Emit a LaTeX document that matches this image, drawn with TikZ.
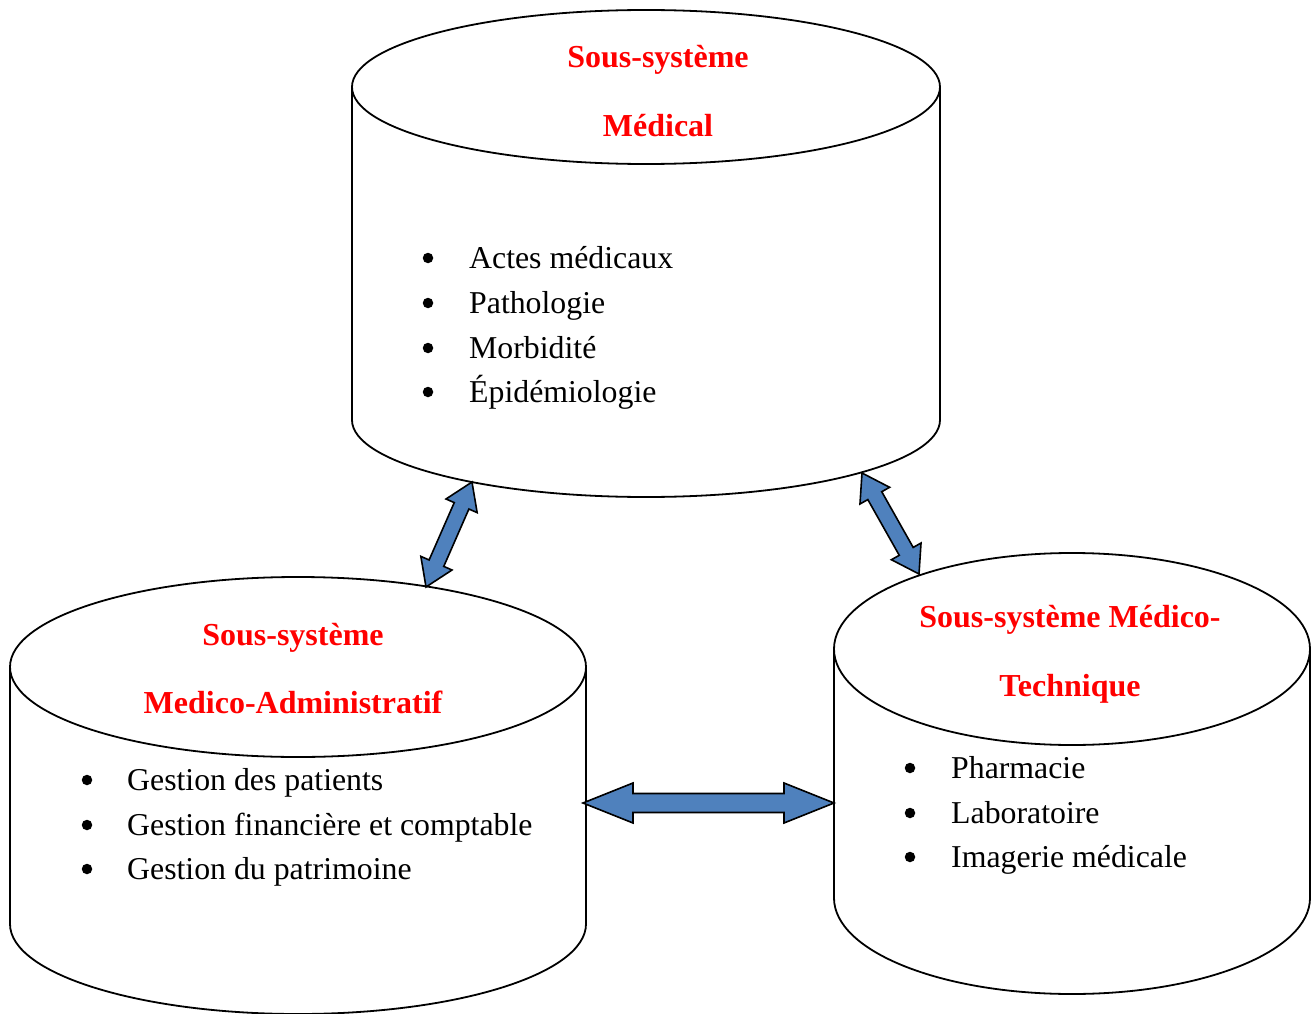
\documentclass[tikz,border=0pt]{standalone}
\usepackage{fontspec}
\setmainfont{Liberation Serif}
\usetikzlibrary{calc}
\definecolor{arrowblue}{HTML}{4F81BD}
\tikzset{
  cyl/.style={draw=black, line width=1.8pt},
  title/.style={text=red, font=\fontsize{32}{38}\selectfont\bfseries, anchor=base, inner sep=0pt},
  item/.style={font=\fontsize{31.8}{37}\selectfont, anchor=base west, inner sep=0pt},
  dot/.style={circle, fill=black, inner sep=0pt, minimum size=10.5pt},
  blockarrow/.style={draw=black, line width=1.6pt, fill=arrowblue, line join=miter},
}
% cylinder: centre x, x radius, top ellipse y, bottom ellipse y, y radius
\newcommand\drumshape[5]{%
  \draw[cyl] (#1,#3) ellipse [x radius=#2, y radius=#5];
  \draw[cyl] (#1-#2,#3) -- (#1-#2,#4)
    arc[start angle=180, end angle=0, x radius=#2, y radius=#5] -- (#1+#2,#3);}
% double block arrow between two tips: head length, head half-width, shaft half-width
\newcommand\dblblock[5]{%
  \draw[blockarrow] (#1)
    -- ($(#1)!#3pt!(#2)!#4pt!90:(#2)$)
    -- ($(#1)!#3pt!(#2)!#5pt!90:(#2)$)
    -- ($(#2)!#3pt!(#1)!#5pt!-90:(#1)$)
    -- ($(#2)!#3pt!(#1)!#4pt!-90:(#1)$)
    -- (#2)
    -- ($(#2)!#3pt!(#1)!#4pt!90:(#1)$)
    -- ($(#2)!#3pt!(#1)!#5pt!90:(#1)$)
    -- ($(#1)!#3pt!(#2)!#5pt!-90:(#2)$)
    -- ($(#1)!#3pt!(#2)!#4pt!-90:(#2)$)
    -- cycle;}
\begin{document}
\begin{tikzpicture}[x=1pt,y=-1pt]
\useasboundingbox (0,0) rectangle (1315,1014);

% the three sub-systems
\drumshape{646}{294}{87}{420}{77}
\drumshape{298}{288}{667}{924}{90}
\drumshape{1072}{238}{649}{898}{96}

% medical sub-system
\node[title] (medT1) at (658,68) {Sous-système};
\node[title] (medT2) at (658,137) {Médical};
\node[dot] (medD1) at (428,258) {};
\node[dot] (medD2) at (428,303) {};
\node[dot] (medD3) at (428,348) {};
\node[dot] (medD4) at (428,392) {};
\node[item] (med1) at (469,268) {Actes médicaux};
\node[item] (med2) at (469,313) {Pathologie};
\node[item] (med3) at (469,358) {Morbidité};
\node[item] (med4) at (469,402) {Épidémiologie};

% medico-administrative sub-system
\node[title] (admT1) at (293,645) {Sous-système};
\node[title] (admT2) at (293,713) {Medico-Administratif};
\node[dot] (admD1) at (87,780) {};
\node[dot] (admD2) at (87,825) {};
\node[dot] (admD3) at (87,869) {};
\node[item] (adm1) at (127,790) {Gestion des patients};
\node[item] (adm2) at (127,835) {Gestion financière et comptable};
\node[item] (adm3) at (127,879) {Gestion du patrimoine};

% medico-technical sub-system
\node[title] (tecT1) at (1070,627) {Sous-système Médico-};
\node[title] (tecT2) at (1070,696) {Technique};
\node[dot] (tecD1) at (910,768) {};
\node[dot] (tecD2) at (910,813) {};
\node[dot] (tecD3) at (910,857) {};
\node[item] (tec1) at (951,778) {Pharmacie};
\node[item] (tec2) at (951,823) {Laboratoire};
\node[item] (tec3) at (951,867) {Imagerie médicale};

% arrow end points on the cylinder outlines
\coordinate (medA) at (472,482);
\coordinate (admM) at (426,587);
\coordinate (medT) at (862,473);
\coordinate (tecM) at (919,574);
\coordinate (admT) at (583,803);
\coordinate (tecA) at (834,803);

\dblblock{medA}{admM}{26}{17}{8}
\dblblock{medT}{tecM}{26}{17}{8}
\dblblock{admT}{tecA}{50}{20}{9.5}
\end{tikzpicture}
\end{document}
